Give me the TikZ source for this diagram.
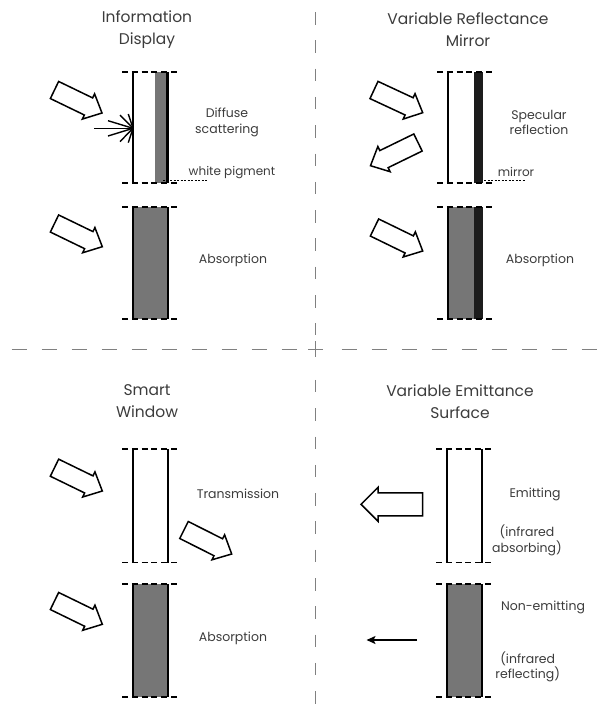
\documentclass[tikz,border=0pt]{standalone}
\usepackage{fontspec}
\setmainfont{Poppins}
\usetikzlibrary{calc,arrows.meta}

\definecolor{inkgray}{RGB}{60,60,60}
\definecolor{divgray}{RGB}{128,128,128}
\definecolor{layergray}{RGB}{118,118,118}
\definecolor{mirrorblack}{RGB}{28,28,28}

\tikzset{
  divider/.style={draw=divgray, line width=1.5},
  edgedash/.style={draw=black, line width=1.4, dash pattern=on 6 off 3.8},
  electrode/.style={draw=black, line width=2},
  hollowarrow/.style={draw=black, line width=1.5, fill=white, line join=miter},
  leader/.style={draw=black, line width=0.6, dash pattern=on 2 off 1.5},
  ray/.style={draw=black, line width=1.4},
  ttl/.style={text=inkgray, align=center, font=\fontsize{15.5}{22}\selectfont},
  lbl/.style={text=inkgray, align=center, font=\fontsize{12.5}{15.5}\selectfont},
  sml/.style={text=inkgray, align=center, font=\fontsize{12}{13}\selectfont},
}

% outlined block arrow from tail #1 to tip #2;
% #3 half shaft width, #4 half head width, #5 head length
\newcommand\blockarrow[5]{%
  \coordinate (hT) at (#1);
  \coordinate (hH) at (#2);
  \coordinate (hS) at ($(hH)!#5!(hT)$);
  \draw[hollowarrow] ($(hT)!#3!90:(hH)$) -- ($(hS)!#3!-90:(hT)$)
    -- ($(hS)!#4!-90:(hT)$) -- (hH) -- ($(hS)!#4!90:(hT)$)
    -- ($(hS)!#3!90:(hT)$) -- ($(hT)!#3!-90:(hH)$) -- cycle;}

\begin{document}
\begin{tikzpicture}[x=1pt,y=-1pt]
\useasboundingbox (0,0) rectangle (601,710);

% ---- quadrant dividers
\draw[divider, dash pattern=on 15 off 15] (11.5,349.5) -- (597,349.5);
\draw[divider, dash pattern=on 12.5 off 15.8] (315.5,12) -- (315.5,710);
\fill[white] (305,335) rectangle (327,366);
\draw[divider] (308,349.5) -- (323,349.5);
\draw[divider] (315.5,341) -- (315.5,357);

% ================= Information Display
\node[ttl] (tInfo) at (147,29.5) {Information\\Display};
% bright state
\fill[layergray] (155,72) rectangle (167,183);
\draw[edgedash] (122,72) -- (177,72);
\draw[edgedash] (122,183) -- (177,183);
\draw[electrode] (133,72) -- (133,183);
\draw[electrode, line width=2.4] (167.5,72) -- (167.5,183);
\blockarrow{54.5,90}{102,113}{9.5pt}{14pt}{15pt}
\coordinate (sc) at (133,128.3);
\foreach \p in {(94,128.3),(108,120.7),(108,136),(120,115),(120,141.6),(128.3,114),(128.3,142.6)}
  \draw[ray] \p -- (sc);
\node[lbl] (tDiffuse) at (227,122.5) {Diffuse\\scattering};
\node[sml] (tPigment) at (232,173) {white pigment};
\draw[leader] (163,180.5) -- (208,180.5);
% dark state
\fill[layergray] (133,207) rectangle (168,319);
\draw[edgedash] (122,207) -- (177,207);
\draw[edgedash] (122,319) -- (177,319);
\draw[electrode] (133,207) -- (133,319);
\draw[electrode] (168,207) -- (168,319);
\blockarrow{54.5,223.5}{102.3,246.7}{9.5pt}{14pt}{15pt}
\node[lbl] (tAbs1) at (233,260) {Absorption};

% ================= Variable Reflectance Mirror
\node[ttl] (tMirror) at (468,29.5) {Variable Reflectance\\Mirror};
% reflecting state
\fill[mirrorblack] (474,72) rectangle (483,183);
\draw[edgedash] (437,72) -- (492,72);
\draw[edgedash] (437,183) -- (492,183);
\draw[electrode] (448,72) -- (448,183);
\blockarrow{374,90}{422.7,112.7}{9.5pt}{14pt}{15pt}
\blockarrow{418,142.5}{370.5,165.7}{9.5pt}{14pt}{15pt}
\node[lbl] (tSpec) at (539,122.5) {Specular\\reflection};
\node[sml] (tMirr) at (516,172) {mirror};
\draw[leader] (484,180.5) -- (525,180.5);
% absorbing state
\fill[layergray] (448,207) rectangle (474,319);
\fill[mirrorblack] (474,207) rectangle (483,319);
\draw[edgedash] (437,207) -- (492,207);
\draw[edgedash] (437,319) -- (492,319);
\draw[electrode] (448,207) -- (448,319);
\blockarrow{374.5,227.5}{422.7,251}{9.5pt}{14pt}{15pt}
\node[lbl] (tAbs2) at (540,260) {Absorption};

% ================= Smart Window
\node[ttl] (tWindow) at (147,401.5) {Smart\\Window};
% clear state
\draw[edgedash] (122,449) -- (177,449);
\draw[edgedash] (122,562.5) -- (177,562.5);
\draw[electrode] (133,449) -- (133,562.5);
\draw[electrode] (168,449) -- (168,562.5);
\blockarrow{54.5,467.7}{102.3,491}{9.5pt}{14pt}{15pt}
\blockarrow{184,530}{231.7,554}{9.5pt}{14pt}{15pt}
\node[lbl] (tTrans) at (238,494) {Transmission};
% coloured state
\fill[layergray] (133,584) rectangle (168,697);
\draw[edgedash] (122,584) -- (177,584);
\draw[edgedash] (122,697) -- (177,697);
\draw[electrode] (133,584) -- (133,697);
\draw[electrode] (168,584) -- (168,697);
\blockarrow{54.5,601}{102.3,624.3}{9.5pt}{14pt}{15pt}
\node[lbl] (tAbs3) at (233,638) {Absorption};

% ================= Variable Emittance Surface
\node[ttl] (tEmit) at (460,401.5) {Variable Emittance\\Surface};
% emitting state
\draw[edgedash] (436,449) -- (491,449);
\draw[edgedash] (436,562.5) -- (491,562.5);
\draw[electrode] (446.5,449) -- (446.5,562.5);
\draw[electrode] (481.5,449) -- (481.5,562.5);
\blockarrow{422.7,504.3}{361,504.3}{11.5pt}{17pt}{17pt}
\node[lbl] (tEmitting) at (535,494) {Emitting};
\node[lbl] (tIRabs) at (527,540.5) {(infrared\\absorbing)};
% non-emitting state
\fill[layergray] (446.5,584) rectangle (481.5,697);
\draw[edgedash] (436,584) -- (491,584);
\draw[edgedash] (436,697) -- (491,697);
\draw[electrode] (446.5,584) -- (446.5,697);
\draw[electrode] (481.5,584) -- (481.5,697);
\coordinate (irS) at (417,640);
\coordinate (irE) at (366.5,640);
\draw[line width=1.5, -{Stealth[length=9pt,width=8pt,inset=2pt]}] (irS) -- (irE);
\node[lbl] (tNonEmit) at (543,607.7) {Non-emitting};
\node[lbl] (tIRref) at (527.7,667) {(infrared\\reflecting)};
\end{tikzpicture}
\end{document}
